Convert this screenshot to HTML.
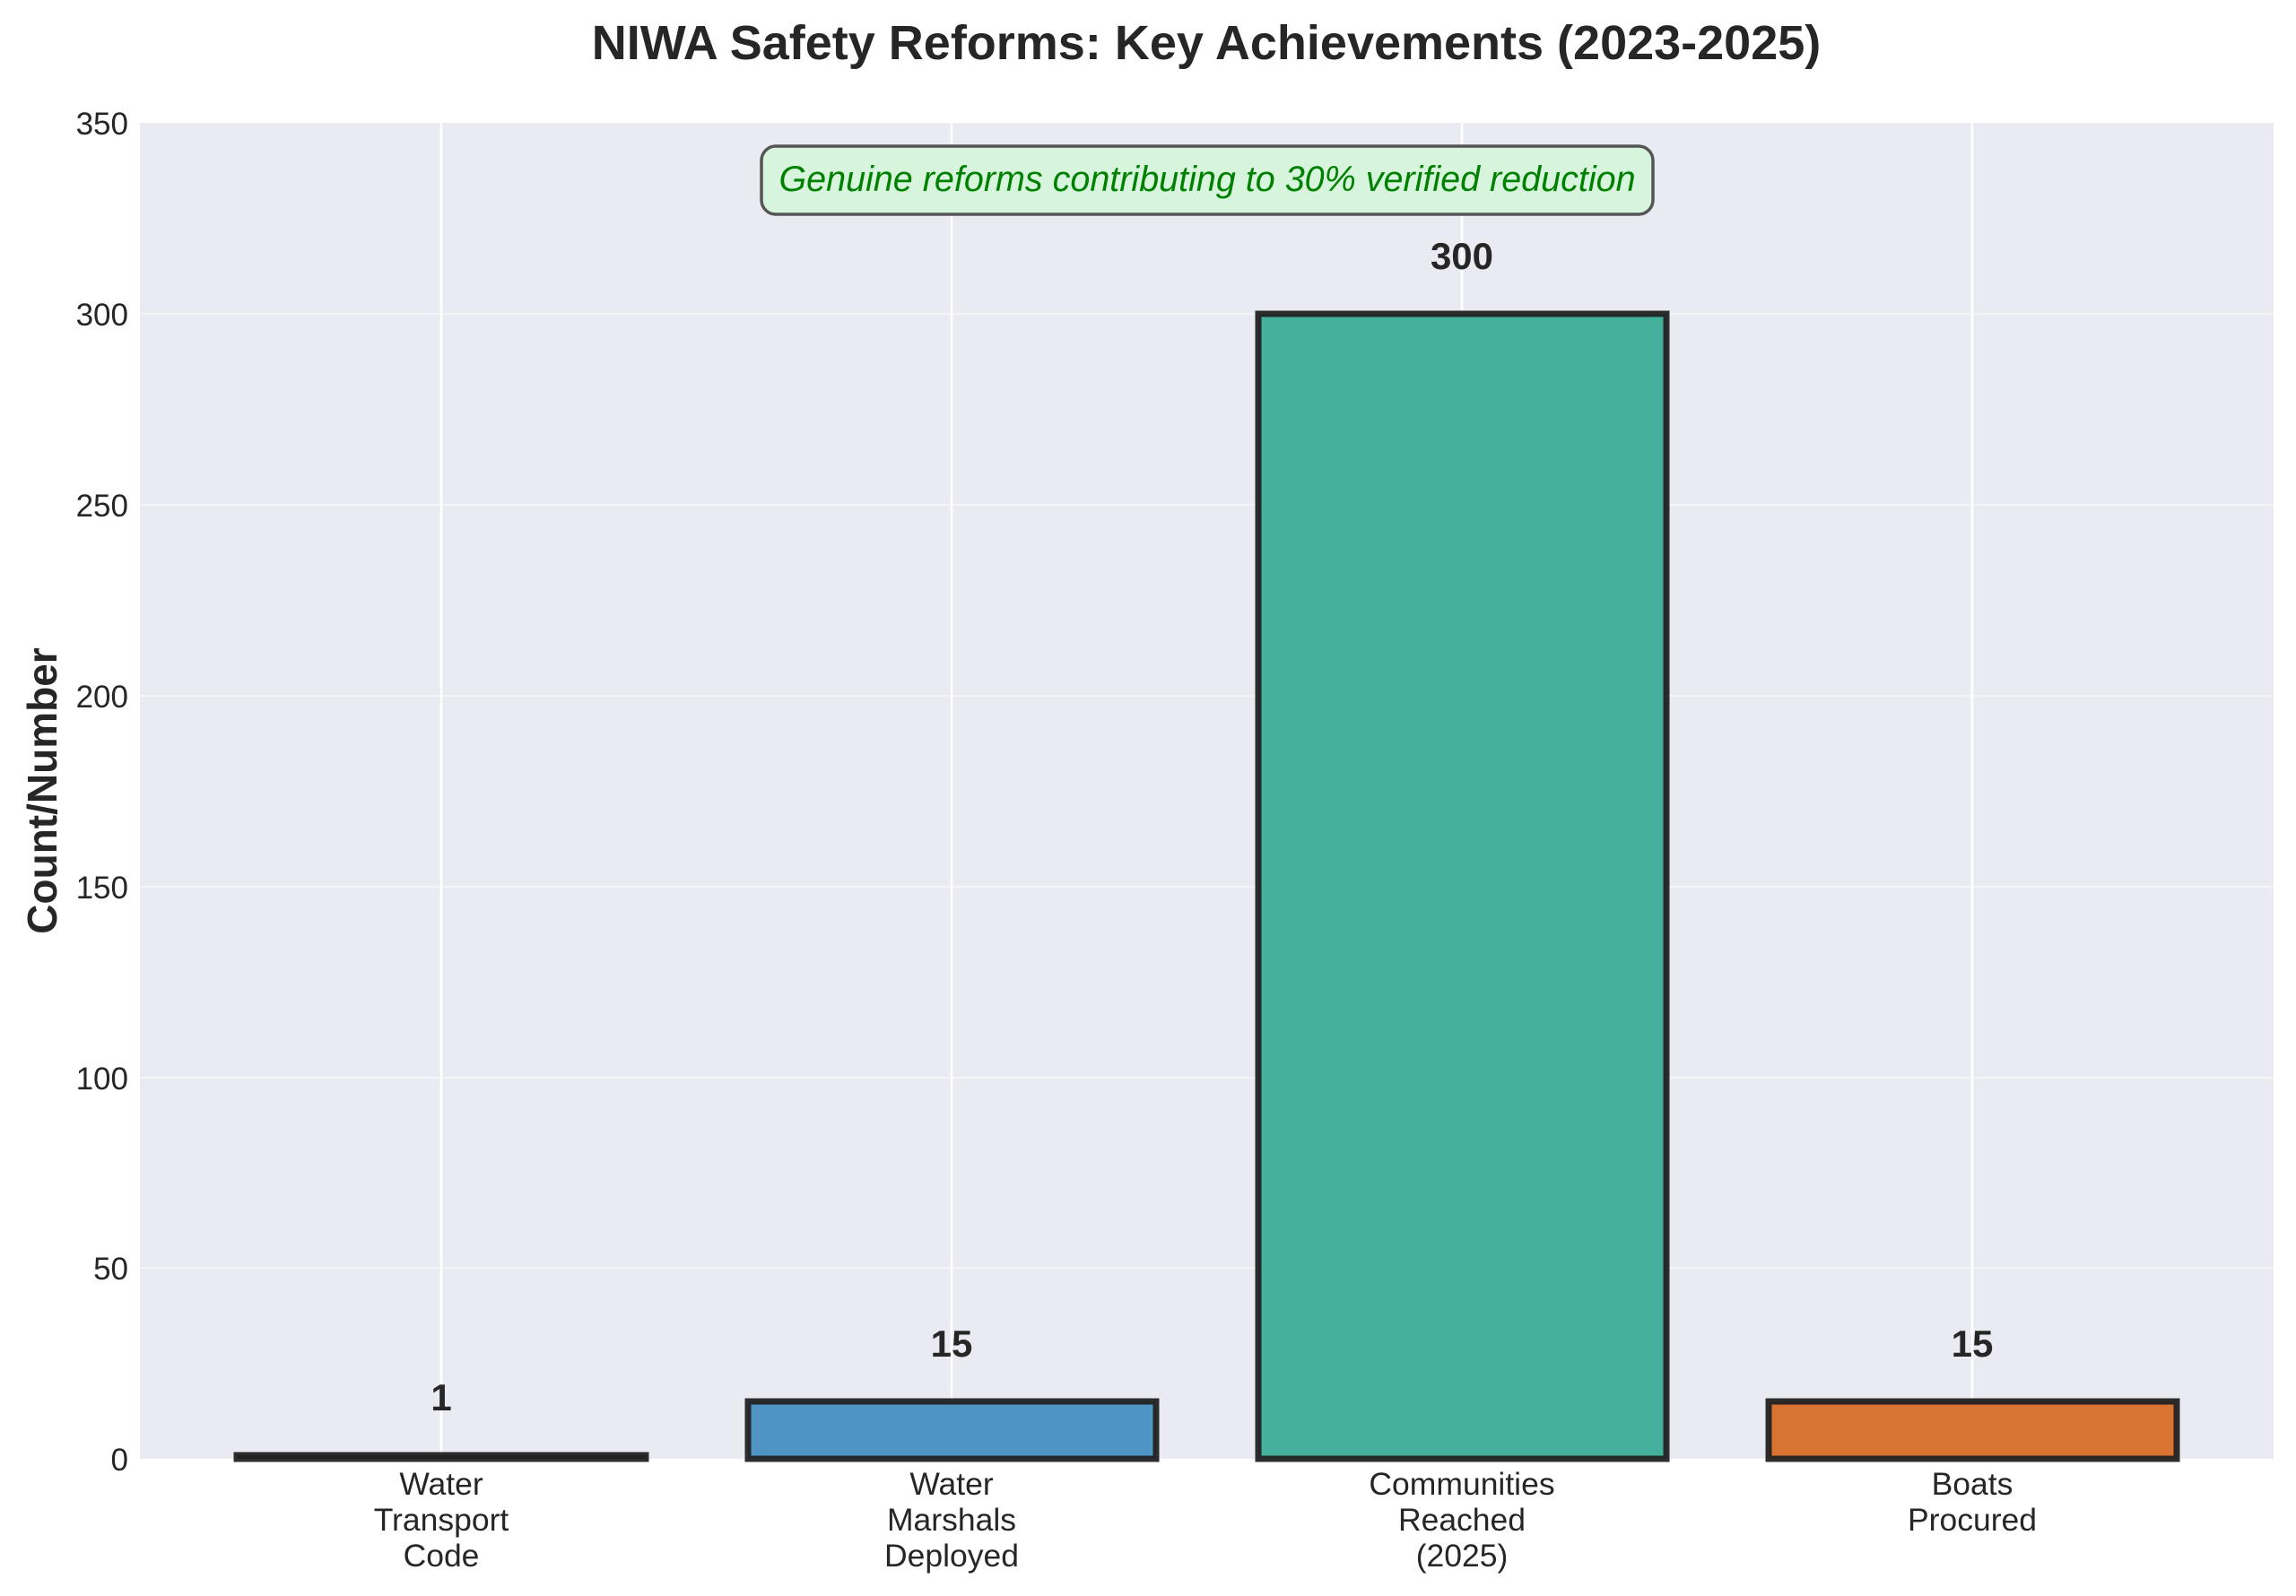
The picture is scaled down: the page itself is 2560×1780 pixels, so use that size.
<!DOCTYPE html>
<html><head><meta charset="utf-8"><style>
html,body{margin:0;padding:0;background:#fff}
svg{display:block}
text{font-family:"Liberation Sans",sans-serif;fill:#262626}
</style></head><body>
<svg width="2560" height="1780" viewBox="0 0 2560 1780" xmlns="http://www.w3.org/2000/svg">
<rect x="0" y="0" width="2560" height="1780" fill="#fff"/>
<rect x="156" y="137" width="2379" height="1490" fill="#eaeaf2"/>
<g stroke="#f3f3f8" stroke-width="2.5">
<line x1="156" y1="1414" x2="2535" y2="1414"/>
<line x1="156" y1="1202" x2="2535" y2="1202"/>
<line x1="156" y1="989" x2="2535" y2="989"/>
<line x1="156" y1="776" x2="2535" y2="776"/>
<line x1="156" y1="563" x2="2535" y2="563"/>
<line x1="156" y1="350" x2="2535" y2="350"/>
</g>
<g stroke="#ffffff" stroke-width="2.5">
<line x1="492" y1="137" x2="492" y2="1627"/>
<line x1="1061" y1="137" x2="1061" y2="1627"/>
<line x1="1630" y1="137" x2="1630" y2="1627"/>
<line x1="2199" y1="137" x2="2199" y2="1627"/>
</g>
<g stroke="#222" stroke-width="7" stroke-opacity="0.95">
<rect x="264" y="1623" width="456" height="4" fill="#2a1e2e"/>
<rect x="834" y="1563" width="455" height="64" fill="#4e94c4"/>
<rect x="1403" y="350" width="455" height="1277" fill="#44b09c"/>
<rect x="1972" y="1563" width="455" height="64" fill="#d97332"/>
</g>
<g font-weight="bold" font-size="42" text-anchor="middle">
<text x="492" y="1573">1</text>
<text x="1061" y="1513">15</text>
<text x="1630" y="300">300</text>
<text x="2199" y="1513">15</text>
</g>
<g font-size="35" text-anchor="end">
<text x="143" y="1640">0</text>
<text x="143" y="1427">50</text>
<text x="143" y="1215">100</text>
<text x="143" y="1002">150</text>
<text x="143" y="789">200</text>
<text x="143" y="576">250</text>
<text x="143" y="363">300</text>
<text x="143" y="150">350</text>
</g>
<g font-size="35.5" text-anchor="middle">
<text x="492" y="1667">Water</text><text x="492" y="1707">Transport</text><text x="492" y="1747">Code</text>
<text x="1061" y="1667">Water</text><text x="1061" y="1707">Marshals</text><text x="1061" y="1747">Deployed</text>
<text x="1630" y="1667">Communities</text><text x="1630" y="1707">Reached</text><text x="1630" y="1747">(2025)</text>
<text x="2199" y="1667">Boats</text><text x="2199" y="1707">Procured</text>
</g>
<text x="1345" y="66" font-size="54" font-weight="bold" text-anchor="middle">NIWA Safety Reforms: Key Achievements (2023-2025)</text>
<text transform="translate(63,882) rotate(-90)" font-size="46" font-weight="bold" text-anchor="middle">Count/Number</text>
<rect x="849" y="163" width="994" height="76" rx="16" fill="#d7f5dc" stroke="#555" stroke-width="3.5"/>
<text x="1346" y="213" font-size="39.5" font-style="italic" text-anchor="middle" style="fill:#008000">Genuine reforms contributing to 30% verified reduction</text>
</svg>
</body></html>
